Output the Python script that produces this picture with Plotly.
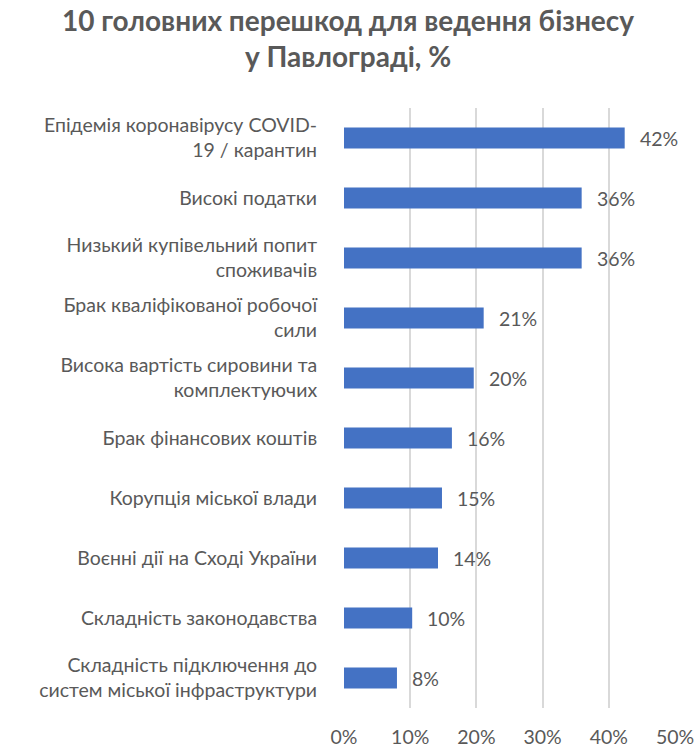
import plotly.graph_objects as go

categories = [
    "Епідемія коронавірусу COVID-<br>19 / карантин",
    "Високі податки",
    "Низький купівельний попит<br>споживачів",
    "Брак кваліфікованої робочої<br>сили",
    "Висока вартість сировини та<br>комплектуючих",
    "Брак фінансових коштів",
    "Корупція міської влади",
    "Воєнні дії на Сході України",
    "Складність законодавства",
    "Складність підключення до<br>систем міської інфраструктури",
]
values = [42.4, 35.9, 35.9, 21.1, 19.6, 16.3, 14.8, 14.2, 10.3, 8.0]
x_ticks = [0, 10, 20, 30, 40, 50]
x_tick_labels = ["0%", "10%", "20%", "30%", "40%", "50%"]

FONT = "Lato"
GRAY = "#595959"

fig = go.Figure()
fig.add_trace(go.Bar(
    y=categories,
    x=values,
    orientation="h",
    marker=dict(color="#4472C4", line=dict(width=0)),
    width=0.35,
    hoverinfo="skip",
))

for c, v in zip(categories, values):
    fig.add_annotation(
        x=v, y=c, text=f"{v:.0f}%", showarrow=False,
        xanchor="left", xshift=13,
        font=dict(family=FONT, size=19.5, color=GRAY),
    )

fig.update_layout(
    width=696, height=749,
    margin=dict(l=344, r=21, t=108, b=41),
    paper_bgcolor="white", plot_bgcolor="white",
    showlegend=False,
    title=dict(
        text="<b>10 головних перешкод для ведення бізнесу<br>у Павлограді, %</b>",
        x=0.5, xanchor="center", xref="container",
        y=1 - 31 / 749, yanchor="middle", yref="container",
        font=dict(family=FONT, size=28, color=GRAY),
    ),
    font=dict(family=FONT, size=19.5, color=GRAY),
)
fig.update_xaxes(
    range=[0, 50], tickvals=x_ticks, ticktext=x_tick_labels,
    showgrid=True, gridcolor="#D9D9D9", gridwidth=1.5,
    zeroline=False, showline=False, automargin=False,
    ticks="outside", ticklen=12, tickcolor="rgba(0,0,0,0)",
    tickfont=dict(family=FONT, size=19.5, color=GRAY),
)
fig.update_yaxes(
    autorange="reversed", showgrid=False, zeroline=False, showline=False,
    automargin=False,
    ticks="outside", ticklen=22, tickcolor="rgba(0,0,0,0)",
    tickfont=dict(family=FONT, size=19.5, color=GRAY),
)

fig.write_html(
    "out.html",
    config={"displayModeBar": False},
    post_script="document.body.style.margin='0';",
)
